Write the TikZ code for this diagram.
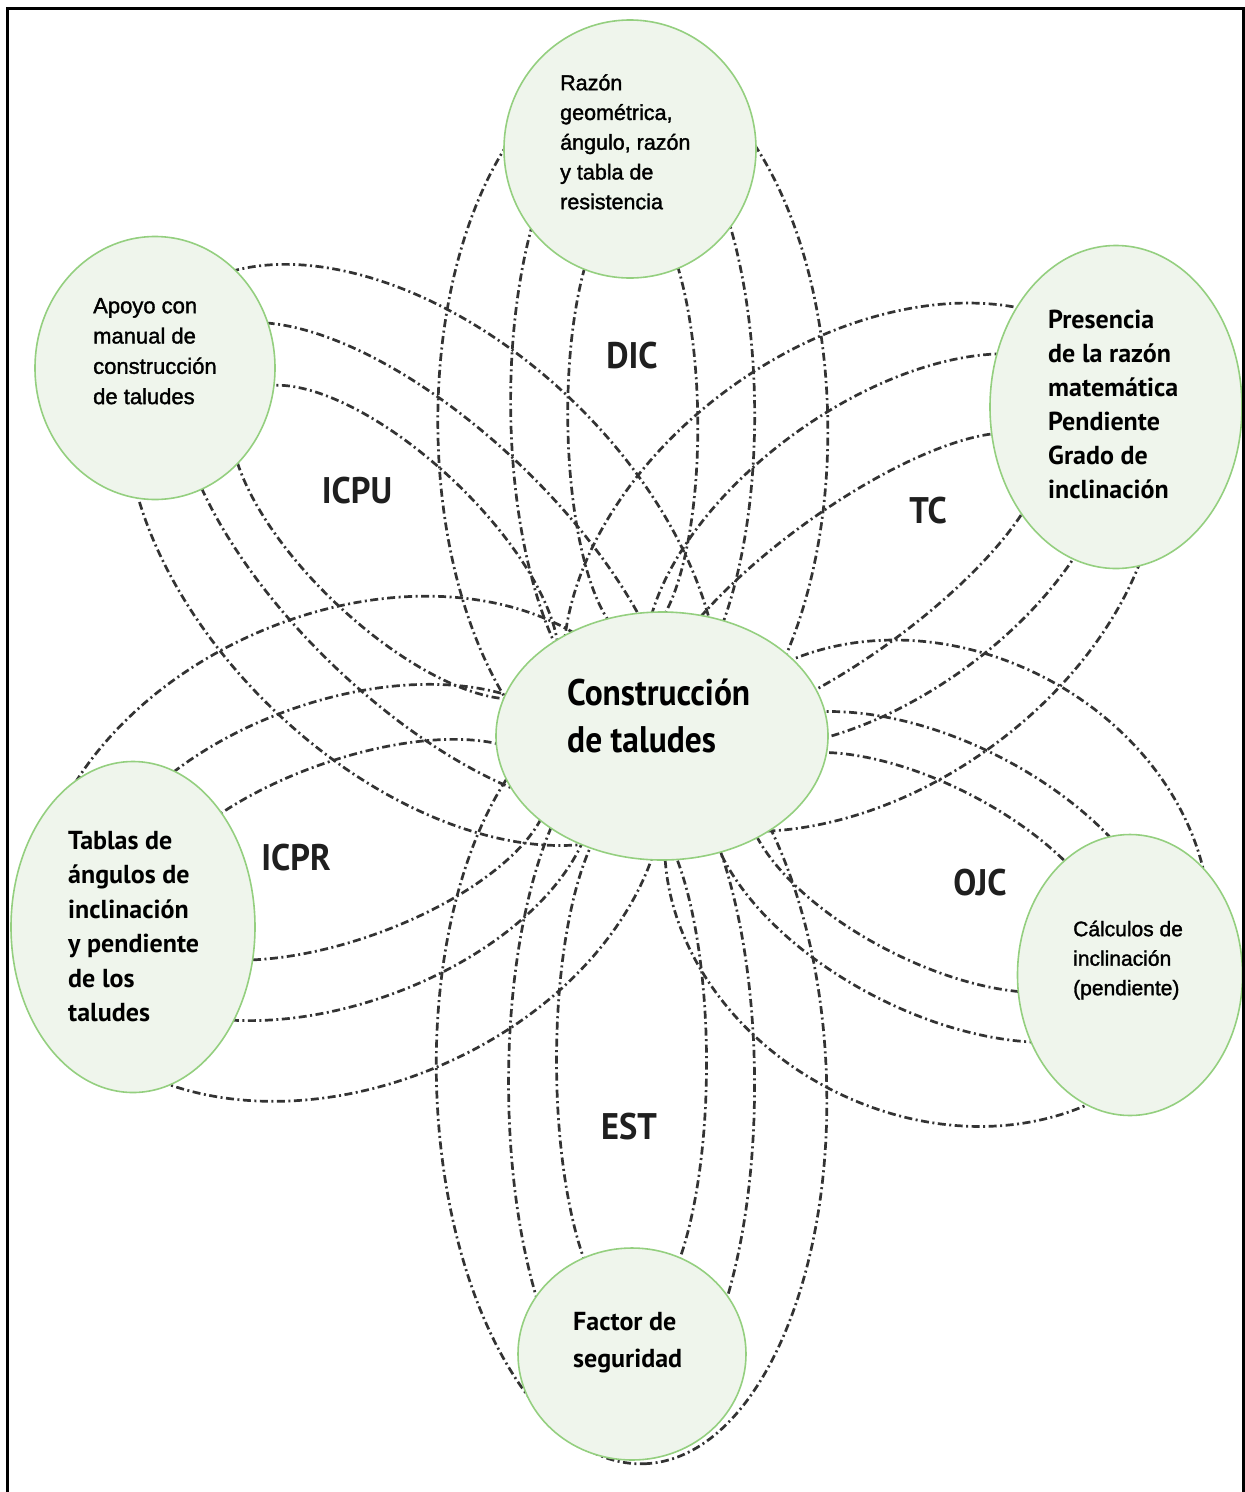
\documentclass[tikz,border=0pt]{standalone}
\usepackage{fontspec}
\setmainfont{Liberation Sans}
\newfontfamily\arialish[FakeBold=1.5]{Liberation Sans}
\newfontfamily\dinfont{PT Sans}
\newfontfamily\dinlabel[FakeStretch=0.93]{PT Sans}
\newfontfamily\dincond[FakeStretch=0.905]{PT Sans}
\usetikzlibrary{shapes.geometric,calc,backgrounds}
\definecolor{bubblefill}{HTML}{EFF5EC}
\definecolor{bubbledraw}{HTML}{94CF7F}
\definecolor{petalcol}{HTML}{333333}
\tikzset{
  bubble/.style={ellipse, draw=bubbledraw, fill=bubblefill, line width=1.6pt, inner sep=0pt},
  txt/.style={anchor=north west, inner sep=0pt, align=left, text=black},
  axislabel/.style={inner sep=0pt, font=\dinlabel\bfseries\fontsize{37pt}{40pt}\selectfont, text=black!88},
  petal/.style={draw=petalcol, line width=2.7pt, dash pattern=on 8pt off 3.5pt on 2pt off 3.5pt}
}
% #1 hub, #2 outer node, #3 offset along axis, #4 offset across, #5 half length, #6 half width, #7 extra turn
\newcommand\petalring[7]{%
  \pgfmathanglebetweenpoints{\pgfpointanchor{#1}{center}}{\pgfpointanchor{#2}{center}}%
  \let\petalang\pgfmathresult
  \pgfpointanchor{#1}{center}\pgfgetlastxy{\petalhx}{\petalhy}%
  \pgfmathsetmacro\petalcx{\petalhx+(#3)*cos(\petalang)-(#4)*sin(\petalang)}%
  \pgfmathsetmacro\petalcy{\petalhy+(#3)*sin(\petalang)+(#4)*cos(\petalang)}%
  \pgfmathsetmacro\petalrot{\petalang+(#7)}%
  \draw[petal] (\petalcx pt,\petalcy pt) circle [x radius=#5pt, y radius=#6pt, rotate=\petalrot];}
\begin{document}
\begin{tikzpicture}[x=1pt,y=-1pt]
\useasboundingbox (0,0) rectangle (1245,1492);
% bubbles
\node[bubble, minimum width=332pt, minimum height=248pt] (c) at (662,736) {};
\node[bubble, minimum width=252pt, minimum height=258pt] (t) at (630,149) {};
\node[bubble, minimum width=240pt, minimum height=263pt] (tl) at (155,368) {};
\node[bubble, minimum width=252pt, minimum height=323pt] (tr) at (1116,407) {};
\node[bubble, minimum width=244pt, minimum height=331pt] (bl) at (133,927) {};
\node[bubble, minimum width=225pt, minimum height=281pt] (br) at (1130,975) {};
\node[bubble, minimum width=228pt, minimum height=212pt] (b) at (632,1354) {};
% texts
\node[txt, font=\dincond\bfseries\fontsize{37pt}{47pt}\selectfont] (ct) at (567,665) {\rule{0pt}{40pt}Construcción\\de taludes};
\node[txt, font=\arialish\fontsize{21.5pt}{29.75pt}\selectfont] (tt) at (560,66) {\rule{0pt}{24pt}Razón\\geométrica,\\ángulo, razón\\y tabla de\\resistencia};
\node[txt, font=\arialish\fontsize{22pt}{30.3pt}\selectfont] (tlt) at (93,289) {\rule{0pt}{24pt}Apoyo con\\manual de\\construcción\\de taludes};
\node[txt, font=\arialish\fontsize{21pt}{29.5pt}\selectfont] (brt) at (1073,912) {\rule{0pt}{24pt}Cálculos de\\inclinación\\(pendiente)};
\node[txt, font=\dinfont\bfseries\fontsize{26pt}{34pt}\selectfont] (trt) at (1048,300) {\rule{0pt}{28pt}Presencia\\de la razón\\matemática\\Pendiente\\Grado de\\inclinación};
\node[txt, font=\dinfont\bfseries\fontsize{26pt}{34.5pt}\selectfont] (blt) at (68,821) {\rule{0pt}{28pt}Tablas de\\ángulos de\\inclinación\\y pendiente\\de los\\taludes};
\node[txt, font=\dinfont\bfseries\fontsize{26pt}{37pt}\selectfont] (bt) at (573,1302) {\rule{0pt}{28pt}Factor de\\seguridad};
% axis labels
\node[axislabel] (ldic) at (632,356) {DIC};
\node[axislabel] (licpu) at (357,491) {ICPU};
\node[axislabel] (ltc) at (928,511) {TC};
\node[axislabel] (licpr) at (296,858) {ICPR};
\node[axislabel] (lojc) at (980,883) {OJC};
\node[axislabel] (lest) at (629,1127) {EST};
% hubs
\coordinate (hv) at (636,737);
\coordinate (hs) at (631,737);
\begin{scope}[on background layer]
  % DIC
  \petalring{hv}{t}{311}{0}{364}{195}{0}
  \petalring{hv}{t}{329}{0}{312}{122}{0}
  \petalring{hv}{t}{317}{0}{219}{65}{0}
  % EST
  \petalring{hs}{b}{346}{0}{381}{195}{1.8}
  \petalring{hs}{b}{347}{0}{338}{123}{0}
  \petalring{hs}{b}{325}{0}{256}{75}{0}
  % ICPU
  \petalring{c}{tl}{300}{-6}{355}{215}{-7.8}
  \petalring{c}{tl}{290}{0}{320}{137}{-8}
  \petalring{c}{tl}{330}{0}{210}{85}{-7.4}
  % TC
  \petalring{c}{tr}{260}{20}{330}{222}{0}
  \petalring{c}{tr}{285}{22}{270}{145}{0}
  \petalring{c}{tr}{240}{15}{235}{73}{0}
  % ICPR
  \petalring{c}{bl}{332}{0}{328}{235}{4}
  \petalring{c}{bl}{343}{0}{265}{151}{0}
  \petalring{c}{bl}{335}{0}{212}{89}{0}
  % OJC
  \petalring{c}{br}{312}{-6}{282}{232}{0}
  \petalring{c}{br}{310}{0}{250}{135}{0}
  \petalring{c}{br}{300}{0}{200}{88}{0}
\end{scope}
% frame
\draw[line width=3pt] (7,1495) -- (7,8) -- (1243,8) -- (1243,1495);
\end{tikzpicture}
\end{document}
